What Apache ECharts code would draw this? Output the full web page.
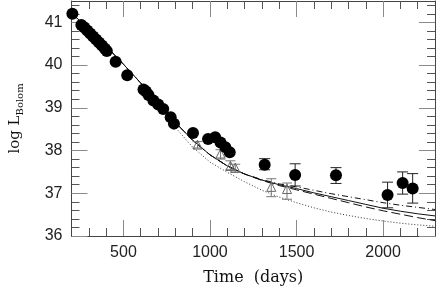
<!DOCTYPE html>
<html><head><meta charset="utf-8">
<script src="https://cdn.jsdelivr.net/npm/echarts@6/dist/echarts.min.js"></script>
<style>html,body{margin:0;padding:0;background:#fff}#c{width:436px;height:291px}</style>
</head><body><div id="c"></div>
<script>
// ---- data ----
const circleDays = [205,257,274,291,308,325,342,359,376,393,404,455,522,616,630,645,673,701,730,773,792,902,989,1030,1061,1089,1114,1316,1492,1728,2026,2113,2171];
const circleLogL = [41.2,40.94,40.88,40.81,40.74,40.67,40.60,40.53,40.46,40.38,40.33,40.08,39.76,39.43,39.38,39.30,39.17,39.08,38.97,38.78,38.63,38.41,38.27,38.31,38.19,38.08,37.96,37.67,37.43,37.42,36.96,37.24,37.11];
const circleErrDays = [1316,1492,1728,2026,2113,2171];
const circleErrLow  = [37.55,37.17,37.23,36.66,36.98,36.77];
const circleErrHigh = [37.81,37.69,37.60,37.26,37.50,37.46];
const triDays = [928,1061,1118,1146,1354,1445];
const triLogL = [38.14,37.93,37.64,37.60,37.15,37.10];
const triErrDays = [928,1061,1118,1146,1354,1445];
const triErrLow  = [38.06,37.80,37.55,37.49,36.92,36.86];
const triErrHigh = [38.21,38.02,37.76,37.68,37.34,37.24];
const modelDays = [200,300,400,500,600,700,800,900,1000,1100,1200,1300,1400,1500,1600,1700,1800,1900,2000,2100,2200,2300];
const modelSolid   = [41.22,40.84,40.44,40.02,39.58,39.13,38.66,38.24,37.90,37.64,37.45,37.31,37.20,37.11,37.01,36.92,36.83,36.74,36.65,36.58,36.52,36.47];
const modelDashed  = [41.22,40.84,40.44,40.02,39.58,39.13,38.66,38.24,37.90,37.64,37.45,37.30,37.18,37.08,36.98,36.88,36.78,36.68,36.59,36.51,36.43,36.36];
const modelDashDot = [41.22,40.84,40.44,40.02,39.58,39.13,38.66,38.24,37.90,37.64,37.45,37.32,37.22,37.15,37.07,36.99,36.92,36.85,36.78,36.72,36.67,36.62];
const modelDotted  = [41.22,40.84,40.44,40.02,39.58,39.13,38.54,38.08,37.73,37.49,37.27,37.07,36.91,36.78,36.66,36.56,36.48,36.41,36.35,36.30,36.26,36.23];
const xMajorTicks = [500,1000,1500,2000];
const xMinorTicks = [300,400,600,700,800,900,1100,1200,1300,1400,1600,1700,1800,1900,2100,2200];
const yMajorTicks = [36,37,38,39,40,41];
const yMinorTicks = [36.2,36.4,36.6,36.8,37.2,37.4,37.6,37.8,38.2,38.4,38.6,38.8,39.2,39.4,39.6,39.8,40.2,40.4,40.6,40.8,41.2,41.4];

const zip = (a,b) => a.map((v,i)=>[v,b[i]]);
const zip3 = (a,b,c) => a.map((v,i)=>[v,b[i],c[i]]);

const chart = echarts.init(document.getElementById('c'), null, {renderer:'canvas'});
const XMIN=200, XMAX=2300, YMIN=36, YMAX=41.5;
const majorCol='#8a8a8a', minorCol='#555', lineCol='#444';
function xAx(pos, major, showLabel, showLine){
  return {type:'value', position:pos, min:XMIN, max:XMAX,
    axisLine:{show:showLine, onZero:false, lineStyle:{color:lineCol,width:1}},
    axisTick:{show:true, inside:true, length: major?16:8, customValues: major?xMajorTicks:xMinorTicks, lineStyle:{color: major?majorCol:minorCol, width:1}},
    axisLabel:{show:showLabel, customValues:xMajorTicks, margin:9, fontSize:16, color:'#222', fontFamily:'Liberation Sans', formatter:v=>String(v)},
    splitLine:{show:false}, name: (showLabel? 'Time  (days)':''), nameLocation:'middle', nameGap:34,
    nameTextStyle:{fontFamily:'DejaVu Serif', fontSize:16, color:'#111'}};
}
function yAx(pos, major, showLabel, showLine){
  return {type:'value', position:pos, min:YMIN, max:YMAX,
    axisLine:{show:showLine, onZero:false, lineStyle:{color:lineCol,width:1}},
    axisTick:{show:true, inside:true, length: major?16:8, customValues: major?yMajorTicks:yMinorTicks, lineStyle:{color: major?majorCol:minorCol, width:1}},
    axisLabel:{show:showLabel, customValues:yMajorTicks, margin:9, fontSize:16, color:'#222', fontFamily:'Liberation Sans', formatter:v=>String(v)},
    splitLine:{show:false},
    name: (showLabel? '{a|log L}{b|Bolom}':''), nameLocation:'middle', nameGap:46, nameRotate:90,
    nameTextStyle:{rich:{a:{fontFamily:'DejaVu Serif', fontSize:15, color:'#111'}, b:{fontFamily:'DejaVu Serif', fontSize:10, color:'#111', padding:[10,0,0,0]}}}};
}
function errSeries(days, lo, hi, color, w){
  return {type:'custom', xAxisIndex:0, yAxisIndex:0, z:3, data: zip3(days, lo, hi),
    renderItem:function(params, api){
      const x=api.value(0);
      const p1=api.coord([x, api.value(2)]), p2=api.coord([x, api.value(1)]);
      const st={stroke:color, lineWidth:1};
      return {type:'group', children:[
        {type:'line', shape:{x1:p1[0],y1:p1[1],x2:p2[0],y2:p2[1]}, style:st},
        {type:'line', shape:{x1:p1[0]-w,y1:p1[1],x2:p1[0]+w,y2:p1[1]}, style:st},
        {type:'line', shape:{x1:p2[0]-w,y1:p2[1],x2:p2[0]+w,y2:p2[1]}, style:st}
      ]};
    }};
}
function model(data, type, color){
  return {type:'line', xAxisIndex:0, yAxisIndex:0, data: zip(modelDays, data), smooth:false, showSymbol:false, symbol:'none', z:2,
    lineStyle:{color:color, width:1, type:type}, silent:true};
}
chart.setOption({
  animation:false,
  grid:{left:65, right:1, top:1, bottom:49, containLabel:false},
  xAxis:[xAx('bottom',true,true,true), xAx('bottom',false,false,false), xAx('top',true,false,true), xAx('top',false,false,false)],
  yAxis:[yAx('left',true,true,true), yAx('left',false,false,false), yAx('right',true,false,true), yAx('right',false,false,false)],
  series:[
    model(modelDotted, [1,2], '#333'),
    model(modelDashed, [9,4], '#111'),
    model(modelDashDot, [6,3,1,3], '#111'),
    model(modelSolid, 'solid', '#111'),
    errSeries(triErrDays, triErrLow, triErrHigh, '#777', 5),
    {type:'scatter', xAxisIndex:0, yAxisIndex:0, z:4, data: zip(triDays, triLogL), symbol:'triangle', symbolSize:9,
      itemStyle:{color:'rgba(255,255,255,0)', borderColor:'#666', borderWidth:1, opacity:1}},
    errSeries(circleErrDays, circleErrLow, circleErrHigh, '#222', 5.5),
    {type:'scatter', xAxisIndex:0, yAxisIndex:0, z:5, data: zip(circleDays, circleLogL), symbol:'circle', symbolSize:12,
      itemStyle:{color:'#000', opacity:1}}
  ]
});
</script></body></html>
